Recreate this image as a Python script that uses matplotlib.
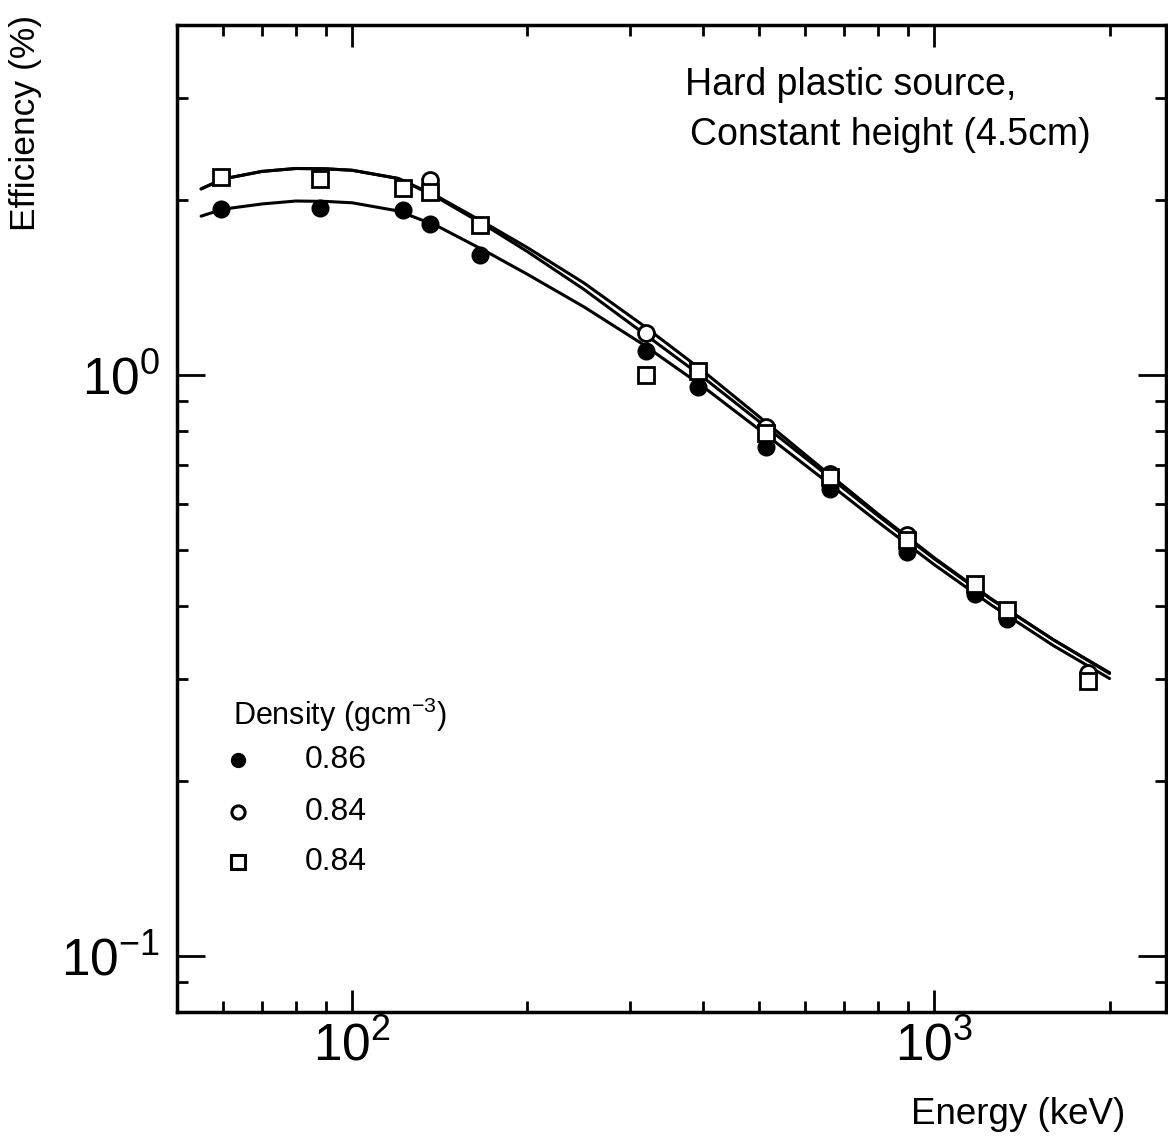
import matplotlib
matplotlib.use("Agg")
import matplotlib.pyplot as plt
from matplotlib.ticker import LogLocator, NullFormatter, LogFormatterSciNotation

plt.rcParams['font.family'] = ['Liberation Sans', 'DejaVu Sans']
plt.rcParams['mathtext.fontset'] = 'custom'
plt.rcParams['mathtext.rm'] = 'Liberation Sans'
plt.rcParams['mathtext.it'] = 'Liberation Sans'
plt.rcParams['mathtext.default'] = 'regular'

# ---- data ----
# measured points, density 0.86 (filled circles)
E_086 = [59.5, 88, 122, 136, 166, 320, 392, 514, 662, 898, 1173, 1333]
eff_086 = [1.93, 1.94, 1.92, 1.82, 1.61, 1.10, 0.952, 0.752, 0.637, 0.495, 0.420, 0.380]
# measured points, density 0.84 (open circles)
E_084c = [136, 320, 514, 662, 898, 1836]
eff_084c = [2.16, 1.18, 0.814, 0.675, 0.529, 0.307]
# measured points, density 0.84 (open squares)
E_084s = [59.5, 88, 122, 136, 166, 320, 392, 514, 662, 898, 1173, 1333, 1836]
eff_084s = [2.19, 2.17, 2.10, 2.06, 1.81, 1.00, 1.017, 0.795, 0.666, 0.519, 0.437, 0.393, 0.297]

# fitted curves as drawn in the reference
curve_E = [55, 60, 70, 80, 90, 100, 120, 140, 170, 200, 250, 315, 400, 500, 630, 800,
           1000, 1250, 1600, 2000]
curve_086 = [1.875, 1.928, 1.968, 1.991, 1.988, 1.977, 1.914, 1.803, 1.629, 1.489, 1.309,
             1.130, 0.955, 0.805, 0.673, 0.558, 0.471, 0.402, 0.342, 0.300]
curve_084c = [2.089, 2.173, 2.239, 2.265, 2.262, 2.249, 2.177, 2.028, 1.819, 1.655, 1.439,
              1.219, 1.016, 0.847, 0.700, 0.576, 0.484, 0.412, 0.350, 0.307]
curve_084s = [2.089, 2.173, 2.239, 2.265, 2.262, 2.249, 2.177, 2.018, 1.803, 1.629, 1.403,
              1.183, 0.991, 0.831, 0.692, 0.572, 0.482, 0.411, 0.350, 0.306]

legend_labels = ["0.86", "0.84", "0.84"]

# ---- figure ----
W, H = 1168, 1144
fig = plt.figure(figsize=(W / 100, H / 100), dpi=100)
L, R, T, B = 177, 1166, 25, 1012
ax = fig.add_axes([L / W, (H - B) / H, (R - L) / W, (B - T) / H])
ax.set_xscale('log')
ax.set_yscale('log')
ax.set_xlim(50, 2500)
ax.set_ylim(0.08, 4.0)

lw = 2.2
for cy in (curve_086, curve_084c, curve_084s):
    ax.plot(curve_E, cy, color='black', lw=lw, solid_capstyle='round',
            solid_joinstyle='round', zorder=2)

ax.plot(E_086, eff_086, 'o', ms=11.5, mfc='black', mec='black', mew=1.5, zorder=4)
ax.plot(E_084c, eff_084c, 'o', ms=11.5, mfc='white', mec='black', mew=2.0, zorder=4)
ax.plot(E_084s, eff_084s, 's', ms=12, mfc='white', mec='black', mew=2.0, zorder=5)

# ticks
ax.xaxis.set_major_locator(LogLocator(base=10, numticks=10))
ax.xaxis.set_minor_locator(LogLocator(base=10, subs=range(2, 10), numticks=20))
ax.yaxis.set_major_locator(LogLocator(base=10, numticks=10))
ax.yaxis.set_minor_locator(LogLocator(base=10, subs=range(2, 10), numticks=20))
ax.xaxis.set_major_formatter(LogFormatterSciNotation())
ax.yaxis.set_major_formatter(LogFormatterSciNotation())
ax.xaxis.set_minor_formatter(NullFormatter())
ax.yaxis.set_minor_formatter(NullFormatter())

ax.tick_params(axis='both', which='both', direction='in', top=True, right=True,
               width=2.0, colors='black')
ax.tick_params(axis='x', which='major', length=16, labelsize=37, pad=7)
ax.tick_params(axis='y', which='major', length=20, labelsize=37, pad=12)
ax.tick_params(axis='both', which='minor', length=8)
for sp in ax.spines.values():
    sp.set_linewidth(2.5)

# annotation
ax.text(0.514, 0.939, "Hard plastic source,", transform=ax.transAxes,
        fontsize=27, ha='left', va='center')
ax.text(0.519, 0.889, "Constant height (4.5cm)", transform=ax.transAxes,
        fontsize=27, ha='left', va='center')

# legend drawn manually
ax.text(0.0566, 0.301, r"Density (gcm$^{-3}$)", transform=ax.transAxes,
        fontsize=22, ha='left', va='center')
leg_y = [0.2553, 0.2026, 0.152]
ax.plot([0.0617], [leg_y[0]], 'o', ms=10, mfc='black', mec='black', transform=ax.transAxes)
ax.plot([0.0617], [leg_y[1]], 'o', ms=9.5, mfc='white', mec='black', mew=2.2, transform=ax.transAxes)
ax.plot([0.0617], [leg_y[2]], 's', ms=9.5, mfc='white', mec='black', mew=2.2, transform=ax.transAxes)
for yy, lab in zip(leg_y, legend_labels):
    ax.text(0.129, yy, lab, transform=ax.transAxes, fontsize=23, ha='left', va='center')

# axis labels
fig.text(0.022, 0.987, "Efficiency (%)", rotation=90, ha='center', va='top', fontsize=25.5)
fig.text(0.963, 0.026, "Energy (keV)", ha='right', va='center', fontsize=26.5)

fig.savefig("out.png", dpi=100, facecolor='white')
